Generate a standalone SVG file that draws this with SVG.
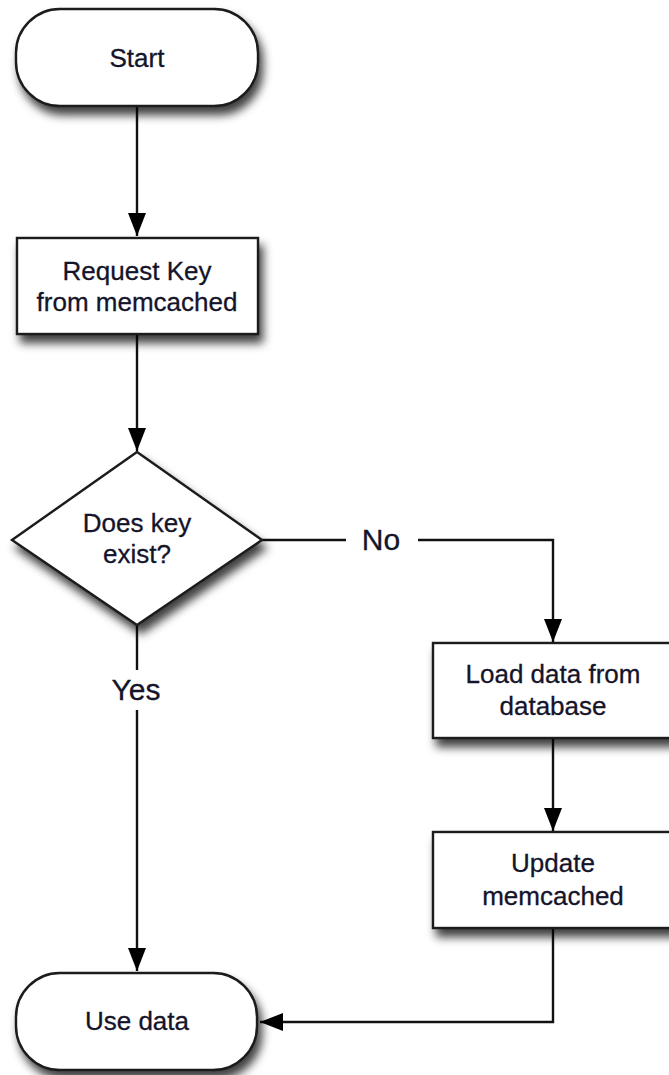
<svg xmlns="http://www.w3.org/2000/svg" width="669" height="1075" viewBox="0 0 669 1075">
<style>
.shape{fill:#fff;stroke:#1a1a1a;stroke-width:2.4}
.t{font-family:"Liberation Sans",Arial,sans-serif;font-size:26px;fill:#14142a;text-anchor:middle;stroke:#14142a;stroke-width:0.3}
.lbl{font-family:"Liberation Sans",Arial,sans-serif;font-size:30px;fill:#14142a;text-anchor:middle;stroke:#14142a;stroke-width:0.3}
.c{fill:none;stroke:#111;stroke-width:2.4}
</style>
<defs>
<filter id="sh" x="-20%" y="-20%" width="150%" height="170%">
<feDropShadow dx="4" dy="8" stdDeviation="5" flood-color="#000" flood-opacity="0.75"/>
</filter>
<marker id="ah" markerUnits="userSpaceOnUse" markerWidth="23" markerHeight="18" refX="23" refY="9" orient="auto" viewBox="0 0 23 18">
<path d="M0,0 L23,9 L0,18 Z" fill="#000"/>
</marker>
</defs>
<rect width="669" height="1075" fill="#fff"/>
<g id="connectors">
<line class="c" x1="137" y1="106" x2="137" y2="236" marker-end="url(#ah)"/>
<line class="c" x1="137" y1="334" x2="137" y2="451" marker-end="url(#ah)"/>
<line class="c" x1="137" y1="625" x2="137" y2="670"/>
<line class="c" x1="137" y1="710" x2="137" y2="971" marker-end="url(#ah)"/>
<line class="c" x1="262" y1="540" x2="346" y2="540"/>
<polyline class="c" points="418,540 553,540 553,642" marker-end="url(#ah)"/>
<line class="c" x1="553" y1="738" x2="553" y2="831" marker-end="url(#ah)"/>
<polyline class="c" points="553,928 553,1022 260,1022" marker-end="url(#ah)"/>
<text class="lbl" x="381" y="550">No</text>
<text class="lbl" x="136" y="700">Yes</text>
</g>
<g id="start">
<rect class="shape" filter="url(#sh)" x="16" y="9" width="242" height="97" rx="44" ry="44"/>
<text class="t" x="137" y="67">Start</text>
</g>
<g id="request">
<rect class="shape" filter="url(#sh)" x="17" y="238" width="241" height="96"/>
<text class="t" x="137" y="280">Request Key</text>
<text class="t" x="137" y="311">from memcached</text>
</g>
<g id="decision">
<polygon class="shape" filter="url(#sh)" points="137,452 262,540 137,625 12,540"/>
<text class="t" x="137" y="532">Does key</text>
<text class="t" x="137" y="563">exist?</text>
</g>
<g id="load">
<rect class="shape" filter="url(#sh)" x="433" y="643" width="242" height="95"/>
<text class="t" x="553" y="683">Load data from</text>
<text class="t" x="553" y="715">database</text>
</g>
<g id="update">
<rect class="shape" filter="url(#sh)" x="433" y="832" width="242" height="96"/>
<text class="t" x="553" y="872">Update</text>
<text class="t" x="553" y="905">memcached</text>
</g>
<g id="use">
<rect class="shape" filter="url(#sh)" x="16" y="973" width="241" height="97" rx="44" ry="44"/>
<text class="t" x="137" y="1030">Use data</text>
</g>
</svg>
